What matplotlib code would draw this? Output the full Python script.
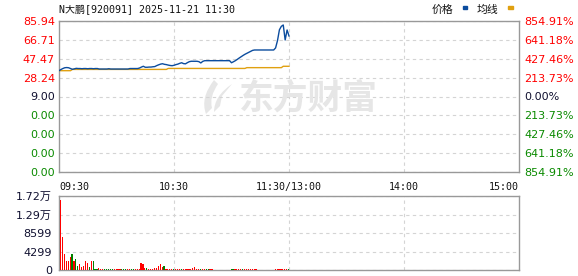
import matplotlib
matplotlib.use("Agg")
import matplotlib.pyplot as plt
from matplotlib.patches import Rectangle, PathPatch
from matplotlib.path import Path

# ---- data ----
title = "N大鹏[920091] 2025-11-21 11:30"

# minutes since 09:30 (trading minutes, 240 in total)
time_ticks = [0, 60, 120, 180, 240]
time_labels = ["09:30", "10:30", "11:30/13:00", "14:00", "15:00"]

price_ticks = [-67.94, -48.705, -29.47, -10.235, 9.00, 28.235, 47.47, 66.705, 85.94]
price_labels = ["0.00", "0.00", "0.00", "0.00", "9.00", "28.24", "47.47", "66.71", "85.94"]
pct_labels = ["854.91%", "641.18%", "427.46%", "213.73%", "0.00%",
              "213.73%", "427.46%", "641.18%", "854.91%"]
label_colors = ["#0a8a00"] * 4 + ["#101030"] + ["#ff0000"] * 4

price = [
    35.3, 36.5, 37.5, 38.3, 38.5, 38.3, 37.5, 36.7, 37.2, 37.7,
    37.5, 37.5, 37.3, 37.5, 37.5, 37.3, 37.5, 37.5, 37.3, 37.5,
    37.5, 37.0, 37.0, 37.0, 37.0, 37.0, 37.3, 37.0, 37.0, 37.0,
    37.0, 37.0, 37.0, 37.0, 37.0, 37.0, 37.0, 37.5, 37.5, 37.5,
    37.5, 37.5, 38.0, 39.0, 39.8, 38.8, 38.8, 39.0, 39.0, 39.3,
    39.5, 40.5, 41.3, 42.0, 42.4, 41.8, 41.5, 41.0, 40.6, 40.4,
    40.8, 41.5, 42.0, 42.8, 43.4, 42.5, 42.3, 43.5, 44.5, 44.9,
    44.9, 44.9, 44.9, 44.5, 43.2, 44.8, 45.5, 45.5, 45.5, 45.5,
    45.5, 45.5, 45.5, 45.5, 45.5, 45.5, 45.5, 45.5, 45.5, 45.5,
    43.4, 44.4, 45.5, 46.8, 48.2, 49.5, 50.8, 52.0, 53.0, 54.0,
    55.0, 56.0, 56.4, 56.4, 56.4, 56.4, 56.4, 56.4, 56.4, 56.4,
    56.4, 56.4, 56.4, 58.5, 66.0, 77.0, 80.5, 81.9, 66.6, 76.8,
    70.7,
]
avg_price = [
    35.3, 35.3, 35.3, 35.3, 35.3, 35.3, 35.3, 36.6, 36.6, 36.6,
    36.6, 36.6, 36.6, 36.6, 36.6, 36.6, 36.6, 36.6, 36.6, 36.6,
    36.6, 36.6, 36.6, 36.6, 36.6, 36.6, 36.6, 36.6, 36.6, 36.6,
    36.6, 36.6, 36.6, 36.6, 36.6, 36.6, 36.6, 36.6, 36.6, 36.6,
    36.6, 36.6, 36.6, 36.6, 36.6, 36.6, 36.6, 36.6, 36.6, 36.6,
    36.6, 36.6, 36.6, 36.6, 36.6, 36.6, 36.6, 37.6, 37.6, 37.6,
    37.6, 37.6, 37.6, 37.6, 37.6, 37.6, 37.6, 37.6, 37.6, 37.6,
    37.6, 37.6, 37.6, 37.6, 37.6, 37.6, 37.6, 37.6, 37.6, 37.6,
    37.6, 37.6, 37.6, 37.6, 37.6, 37.6, 37.6, 37.6, 37.6, 37.6,
    37.6, 37.6, 37.6, 37.6, 37.6, 37.6, 37.6, 37.6, 38.4, 38.4,
    38.4, 38.4, 38.4, 38.4, 38.4, 38.4, 38.4, 38.4, 38.4, 38.4,
    38.4, 38.4, 38.4, 38.4, 38.4, 38.4, 38.4, 39.8, 39.8, 39.8,
    39.8,
]

volume = [
    16300, 7700, 3800, 2200, 2200, 2950, 3800, 2200, 2600, 1000,
    1400, 800, 1000, 2200, 1600, 800, 2200, 2150, 240, 240,
    480, 240, 240, 240, 240, 240, 240, 240, 240, 240,
    240, 240, 240, 240, 240, 240, 240, 240, 240, 240,
    240, 240, 1670, 1430, 480, 480, 240, 240, 240, 480,
    560, 880, 1430, 700, 1030, 240, 240, 240, 240, 240,
    240, 240, 240, 240, 240, 240, 240, 240, 240, 480,
    720, 240, 240, 240, 240, 240, 240, 240, 240, 240,
    0, 0, 0, 0, 0, 0, 0, 0, 0, 240,
    240, 240, 240, 240, 240, 240, 240, 240, 240, 240,
    240, 240, 240, 0, 0, 0, 0, 0, 0, 0,
    0, 0, 240, 240, 240, 240, 240, 240, 240, 240,
]
vol_side = (
    "rrrrrrgrgg" "rrrrrgrggg" "rrrgggggrr" "rrgggrrggr"
    "rrrrrgrrrr" "rrrrgrrrrg" "rrrgrrrrrr" "rrrgrrggrr"
    "rrrrrrrrrg" "grrrrgrrrr" "rrrrrrrrrr" "rrrrrrrrrg"
)
vol_ticks = [0, 4299, 8599, 12898, 17198]
vol_labels = ["0", "4299", "8599", "1.29万", "1.72万"]

# ---- styling ----
W, H = 578, 276
frame_c = "#999999"
grid_c = "#d4d4d4"
price_c = "#0b4c9e"
avg_c = "#e0a010"
wm_c = "#e6e6e6"
cjk = ["DejaVu Sans", "Noto Sans CJK SC"]
mono = ["DejaVu Sans Mono", "Noto Sans CJK SC"]

fig = plt.figure(figsize=(W / 100, H / 100), dpi=100)

def frac(x0, y0, x1, y1):
    return [x0 / W, 1 - y1 / H, (x1 - x0) / W, (y1 - y0) / H]

def px(x, y):
    return (x / W, 1 - y / H)

ax = fig.add_axes(frac(59, 21, 519, 172))
axv = fig.add_axes(frac(59, 196, 519, 270))

# watermark: swoosh logo + name
verts = [px(214, 80), px(200, 98), px(206, 114), px(212, 108),
         px(209, 97), px(218, 84), px(214, 80)]
codes = [Path.MOVETO, Path.CURVE3, Path.CURVE3, Path.LINETO,
         Path.CURVE3, Path.CURVE3, Path.CLOSEPOLY]
fig.add_artist(PathPatch(Path(verts, codes), transform=fig.transFigure,
                         facecolor=wm_c, edgecolor="none", zorder=0))
verts2 = [px(232, 84), px(214, 96), px(214, 112), px(220, 106),
          px(222, 96), px(232, 84)]
codes2 = [Path.MOVETO, Path.CURVE3, Path.CURVE3, Path.LINETO,
          Path.LINETO, Path.CLOSEPOLY]
fig.add_artist(PathPatch(Path(verts2, codes2), transform=fig.transFigure,
                         facecolor=wm_c, edgecolor="none", zorder=0))
fig.text(0.533, 0.645, "东方财富", family=["Noto Sans CJK SC"], fontsize=25,
         fontweight="bold", color=wm_c, ha="center", va="center", zorder=0)

for a in (ax, axv):
    a.set_xlim(0, 240)
    a.set_facecolor("none")
    for s in a.spines.values():
        s.set_color(frame_c)
        s.set_linewidth(1.0)
    a.set_xticks(time_ticks[1:-1])
    a.grid(True, color=grid_c, linestyle=(0, (3, 3)), linewidth=0.8)
    a.tick_params(length=0)

ax.set_ylim(price_ticks[0], price_ticks[-1])
ax.set_yticks(price_ticks)
ax.set_yticklabels(price_labels, fontsize=8)
ax.tick_params(axis="y", pad=3)
for lbl, c in zip(ax.get_yticklabels(), label_colors):
    lbl.set_color(c)
ax.set_xticklabels([])

axr = ax.twinx()
axr.set_ylim(price_ticks[0], price_ticks[-1])
axr.set_yticks(price_ticks)
axr.set_yticklabels(pct_labels, fontsize=8)
axr.tick_params(axis="y", length=0, pad=4)
for lbl, c in zip(axr.get_yticklabels(), label_colors):
    lbl.set_color(c)
for s in axr.spines.values():
    s.set_visible(False)

minutes = list(range(len(price)))
ax.plot(minutes, avg_price, color=avg_c, linewidth=1.0, zorder=3)
ax.plot(minutes, price, color=price_c, linewidth=1.0, zorder=4)

# time labels under the price panel
for t, lab in zip(time_ticks, time_labels):
    ha = "left" if t == 0 else ("right" if t == 240 else "center")
    ax.annotate(lab, xy=(t, 0), xycoords=("data", "axes fraction"),
                xytext=(0, -11), textcoords="offset points",
                ha=ha, va="center", fontsize=7.2, family=mono, color="#111111")

# volume panel
pos = [m + 0.8 for m in range(len(volume))]
cols = ["#ff0000" if s == "r" else "#008000" for s in vol_side]
axv.bar(pos, volume, width=0.6, color=cols, linewidth=0, zorder=3)
axv.set_ylim(0, vol_ticks[-1])
axv.set_yticks(vol_ticks)
axv.set_yticklabels(vol_labels, fontsize=8, family=cjk, color="#101030")
axv.tick_params(axis="y", pad=5)
axv.set_xticklabels([])

# title and legend
fig.text(59 / W, 1 - 10 / H, title, family=mono, fontsize=7.2,
         ha="left", va="center", color="#111111")
fig.text(432 / W, 1 - 10 / H, "价格", family=["Noto Sans CJK SC"], fontsize=7.8,
         ha="left", va="center", color="#111111")
fig.text(477 / W, 1 - 10 / H, "均线", family=["Noto Sans CJK SC"], fontsize=7.8,
         ha="left", va="center", color="#111111")
fig.add_artist(Rectangle((463 / W, 1 - 8.5 / H), 4.5 / W, 2.5 / H,
                         transform=fig.transFigure, color=price_c))
fig.add_artist(Rectangle((508 / W, 1 - 8.5 / H), 4.5 / W, 2.5 / H,
                         transform=fig.transFigure, color=avg_c))

fig.savefig("out.png", dpi=100)
